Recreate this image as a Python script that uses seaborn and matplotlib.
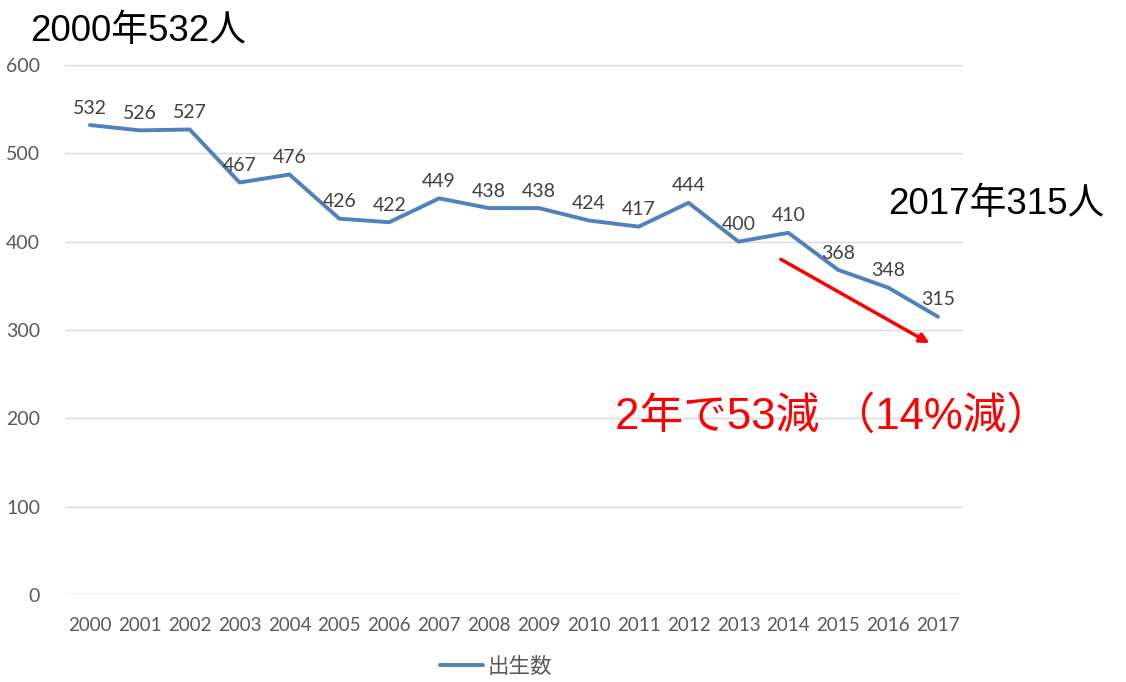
import numpy as np
import pandas as pd
import matplotlib.pyplot as plt
import seaborn as sns

sns.set_theme(style='white')
plt.rcParams['font.family'] = ['Lato', 'Noto Sans CJK JP', 'DejaVu Sans']

# --- data ---
years = [2000, 2001, 2002, 2003, 2004, 2005, 2006, 2007, 2008,
         2009, 2010, 2011, 2012, 2013, 2014, 2015, 2016, 2017]
births = [532, 526, 527, 467, 476, 426, 422, 449, 438,
          438, 424, 417, 444, 400, 410, 368, 348, 315]
series_name = '出生数'
yticks = [0, 100, 200, 300, 400, 500, 600]

df = pd.DataFrame({'year': years, series_name: births})

fig = plt.figure(figsize=(11.26, 6.82), dpi=100)
ax = fig.add_axes([0.0577, 0.1276, 0.7975, 0.7771])

sns.lineplot(data=df, x='year', y=series_name, ax=ax, color='#4F81BD',
             linewidth=2.8, label=series_name)

for x, y in zip(years, births):
    ax.annotate(str(y), (x, y), xytext=(0, 6), textcoords='offset points',
                ha='center', va='bottom', fontsize=14, color='#404040')

ax.set_xlim(years[0] - 0.5, years[-1] + 0.5)
ax.set_ylim(0, 600)
ax.set_xticks(years)
ax.set_xticklabels([str(y) for y in years])
ax.set_yticks(yticks)
ax.tick_params(axis='both', labelsize=14, labelcolor='#595959', length=0)
ax.tick_params(axis='x', labelsize=13.5, pad=16)
ax.tick_params(axis='y', pad=18)
ax.grid(axis='y', color='#D9D9D9', linewidth=1)
ax.set_xlabel('')
ax.set_ylabel('')
for s in ax.spines.values():
    s.set_visible(False)

ax.legend(loc='upper center', bbox_to_anchor=(0.48, -0.08), frameon=False,
          fontsize=15.5, handlelength=2.0, handletextpad=0.2,
          labelcolor='#595959')

# annotations
fig.text(0.027, 0.954, '2000年532人', fontsize=26.5, color='black',
         family=['Liberation Sans', 'Noto Sans CJK JP'], va='center')
fig.text(0.789, 0.700, '2017年315人', fontsize=26.5, color='black',
         family=['Liberation Sans', 'Noto Sans CJK JP'], va='center')
fig.text(0.546, 0.389, '2年で53減 （14%減）', fontsize=31.5, color='#FF0000',
         family=['Liberation Sans', 'Noto Sans CJK JP'], va='center')

ax.annotate('', xy=(2016.83, 285), xytext=(2013.85, 380),
            arrowprops=dict(arrowstyle='-|>', color='#FF0000', lw=2.5,
                            mutation_scale=14, shrinkA=0, shrinkB=0))

plt.savefig('out.png', dpi=100)
